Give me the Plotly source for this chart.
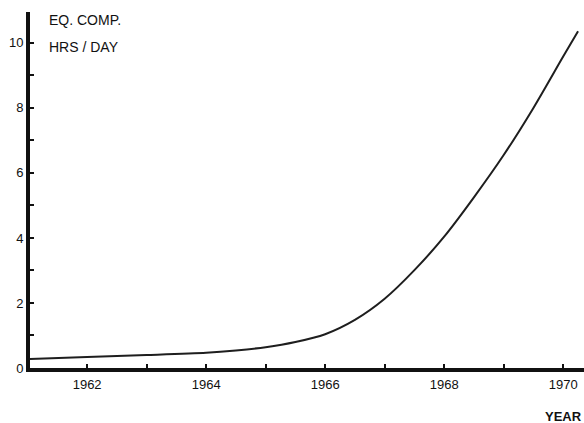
import plotly.graph_objects as go

# Equivalent computer hours per day, by year
years = [1961.04, 1962.0, 1963.0, 1964.0, 1964.5, 1965.0, 1965.5, 1966.0,
         1966.5, 1967.0, 1967.5, 1968.0, 1968.5, 1969.0, 1969.5, 1970.0, 1970.25]
hours = [0.28, 0.34, 0.40, 0.47, 0.54, 0.64, 0.80, 1.04,
         1.48, 2.13, 3.01, 4.04, 5.25, 6.55, 8.00, 9.58, 10.36]

x_ticks = [1962, 1964, 1966, 1968, 1970]
y_ticks = [0, 2, 4, 6, 8, 10]

FONT = "Liberation Sans, Arial, sans-serif"
INK = "#111111"

fig = go.Figure()
fig.add_trace(go.Scatter(
    x=years, y=hours, mode="lines",
    line=dict(color="#1e1e1e", width=2, shape="spline", smoothing=0.8),
    hoverinfo="skip", showlegend=False,
))

axis_common = dict(
    showgrid=False, zeroline=False,
    showline=True, linecolor=INK, linewidth=4,
    ticks="inside", ticklen=4, tickwidth=2, tickcolor=INK,
    tickfont=dict(family=FONT, size=13, color=INK),
)

fig.update_layout(
    width=584, height=423,
    margin=dict(l=30, r=0, t=12, b=55),
    paper_bgcolor="white", plot_bgcolor="white",
    font=dict(family=FONT, size=13, color=INK),
    xaxis=dict(
        range=[1961.04, 1970.35],
        tickmode="array", tickvals=x_ticks, ticktext=[str(v) for v in x_ticks],
        minor=dict(dtick=1, tick0=1961, ticks="inside", ticklen=4, tickwidth=2, tickcolor=INK),
        ticklabelstandoff=1,
        **axis_common,
    ),
    yaxis=dict(
        range=[0, 10.95],
        tickmode="array", tickvals=y_ticks, ticktext=[str(v) for v in y_ticks],
        minor=dict(dtick=1, tick0=0, ticks="inside", ticklen=4, tickwidth=2, tickcolor=INK),
        ticklabelstandoff=0,
        **axis_common,
    ),
    annotations=[
        dict(text="EQ. COMP.", xref="paper", yref="paper", x=0.03, y=1.005,
             xanchor="left", yanchor="top", showarrow=False,
             font=dict(family=FONT, size=14, color=INK)),
        dict(text="HRS / DAY", xref="paper", yref="paper", x=0.03, y=0.93,
             xanchor="left", yanchor="top", showarrow=False,
             font=dict(family=FONT, size=14, color=INK)),
        dict(text="<b>YEAR</b>", xref="paper", yref="paper", x=1.0, y=-0.11,
             xanchor="right", yanchor="top", showarrow=False,
             font=dict(family=FONT, size=13, color=INK)),
    ],
)

fig.write_html("out.html")
